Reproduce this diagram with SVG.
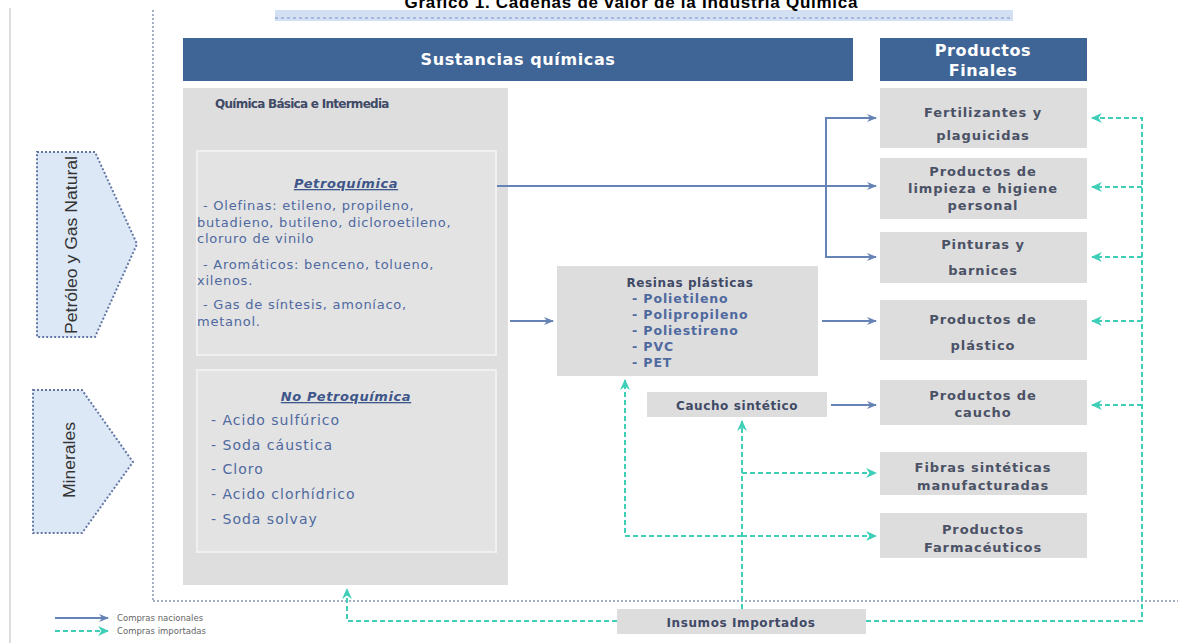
<svg xmlns="http://www.w3.org/2000/svg" width="1178" height="643" viewBox="0 0 1178 643">
<style>
.hdr{fill:#3f6596}
.hdrt{font-family:"DejaVu Sans",sans-serif;font-weight:bold;font-size:16px;fill:#ffffff;text-anchor:middle;letter-spacing:0.6px}
.gbox{fill:#dedede}
.ibox{fill:#e3e3e3;stroke:#f0f0f0;stroke-width:2}
.pbox{fill:#dddddd}
.pt{font-family:"DejaVu Sans",sans-serif;font-weight:bold;font-size:13px;fill:#4b5266;text-anchor:middle;letter-spacing:0.9px}
.bt{font-family:"DejaVu Sans",sans-serif;font-size:13px;fill:#4f69a0;letter-spacing:0.75px}
.bt2{font-family:"DejaVu Sans",sans-serif;font-size:14px;fill:#4f69a0;letter-spacing:1px}
.bth{font-family:"DejaVu Sans",sans-serif;font-weight:bold;font-style:italic;font-size:13px;fill:#3e5689;text-anchor:middle;text-decoration:underline;letter-spacing:0.6px}
.rt{font-family:"DejaVu Sans",sans-serif;font-weight:bold;font-size:12.5px;fill:#4f69a0;letter-spacing:0.9px}
.tt{font-family:"DejaVu Sans",sans-serif;font-weight:bold;font-size:12px;fill:#404a66;letter-spacing:0.6px}
.sol{fill:none;stroke:#6683b5;stroke-width:2}
.dsh{fill:none;stroke:#3fcfb8;stroke-width:2;stroke-dasharray:5,3}
.dot{fill:none;stroke:#a3b0c8;stroke-width:2;stroke-dasharray:2,2}
.arr{fill:#dde8f6;stroke:#6277a6;stroke-width:2;stroke-dasharray:2,2}
.leg{font-family:"DejaVu Sans",sans-serif;font-size:8.5px;fill:#666666}
</style>
<defs>
<marker id="ab" viewBox="0 0 10 10" refX="9" refY="5" markerWidth="10" markerHeight="10" markerUnits="userSpaceOnUse" orient="auto"><path d="M0,1 L10,5 L0,9 L3,5 Z" fill="#6683b5"/></marker>
<marker id="at" viewBox="0 0 10 10" refX="9" refY="5" markerWidth="11" markerHeight="11" markerUnits="userSpaceOnUse" orient="auto"><path d="M0,0.5 L10,5 L0,9.5 L3,5 Z" fill="#3fcfb8"/></marker>
</defs>
<rect width="1178" height="643" fill="#ffffff"/>

<g id="frame">
<line x1="10" y1="8" x2="10" y2="643" stroke="#dddddd" stroke-width="2"/>
<line class="dot" x1="153" y1="10" x2="153" y2="601"/>
<line class="dot" x1="153" y1="601" x2="1178" y2="601"/>
<rect x="275" y="10" width="738" height="11" fill="#d3dff3"/>
<line x1="275" y1="18" x2="1013" y2="18" stroke="#a6b8dc" stroke-width="2" stroke-dasharray="3,3"/>
<text x="631" y="8" font-family="Liberation Sans, sans-serif" font-weight="bold" font-size="17" text-anchor="middle" fill="#000000" textLength="453">Gráfico 1. Cadenas de valor de la Industria Química</text>
</g>

<g id="sustancias-header">
<rect class="hdr" x="183" y="38" width="670" height="43"/>
<text class="hdrt" x="518" y="65">Sustancias químicas</text>
</g>
<g id="productos-header">
<rect class="hdr" x="880" y="38" width="207" height="43"/>
<text class="hdrt" x="983" y="56">Productos</text>
<text class="hdrt" x="983" y="76">Finales</text>
</g>

<g id="petroleo">
<path class="arr" d="M37,152 H95 L137,244 L95,337 H37 Z"/>
<text transform="translate(77,245) rotate(-90)" font-family="Liberation Sans, sans-serif" font-size="16" fill="#333333" text-anchor="middle" textLength="178" lengthAdjust="spacingAndGlyphs">Petróleo y Gas Natural</text>
</g>
<g id="minerales">
<path class="arr" d="M33,390 H82 L133,462 L82,533 H33 Z"/>
<text transform="translate(75,460) rotate(-90)" font-family="Liberation Sans, sans-serif" font-size="16" fill="#333333" text-anchor="middle" textLength="76" lengthAdjust="spacingAndGlyphs">Minerales</text>
</g>

<g id="quimica-basica">
<rect class="gbox" x="183" y="88" width="325" height="497"/>
<text class="tt" x="215" y="108" textLength="175">Química Básica e Intermedia</text>
</g>
<g id="petroquimica">
<rect class="ibox" x="197" y="151" width="299" height="204"/>
<text class="bth" x="346" y="188">Petroquímica</text>
<text class="bt" x="203" y="210"> - Olefinas: etileno, propileno,</text>
<text class="bt" x="197" y="227">butadieno, butileno, dicloroetileno,</text>
<text class="bt" x="197" y="243">cloruro de vinilo</text>
<text class="bt" x="203" y="269"> -  Aromáticos: benceno, tolueno,</text>
<text class="bt" x="197" y="285">xilenos.</text>
<text class="bt" x="203" y="309"> -  Gas de síntesis, amoníaco,</text>
<text class="bt" x="197" y="326">metanol.</text>
</g>
<g id="no-petroquimica">
<rect class="ibox" x="197" y="370" width="299" height="182"/>
<text class="bth" x="346" y="401">No Petroquímica</text>
<text class="bt2" x="211" y="425">- Acido sulfúrico</text>
<text class="bt2" x="211" y="450">- Soda cáustica</text>
<text class="bt2" x="211" y="474">- Cloro</text>
<text class="bt2" x="211" y="499">- Acido clorhídrico</text>
<text class="bt2" x="211" y="524">- Soda solvay</text>
</g>

<g id="resinas">
<rect class="pbox" x="557" y="266" width="261" height="110"/>
<text class="tt" x="690" y="287" text-anchor="middle" font-size="12.5" letter-spacing="0.9">Resinas plásticas</text>
<text class="rt" x="632" y="303">- Polietileno</text>
<text class="rt" x="632" y="319">- Polipropileno</text>
<text class="rt" x="632" y="335">- Poliestireno</text>
<text class="rt" x="632" y="351">- PVC</text>
<text class="rt" x="632" y="367">- PET</text>
</g>
<g id="caucho-sintetico">
<rect class="pbox" x="647" y="392" width="180" height="25"/>
<text class="tt" x="737" y="410" text-anchor="middle" font-size="13.5" letter-spacing="1.1">Caucho sintético</text>
</g>

<g id="fertilizantes">
<rect class="pbox" x="880" y="88" width="207" height="60"/>
<text class="pt" x="983" y="117">Fertilizantes y</text>
<text class="pt" x="983" y="140">plaguicidas</text>
</g>
<g id="limpieza">
<rect class="pbox" x="880" y="158" width="207" height="61"/>
<text class="pt" x="983" y="176">Productos de</text>
<text class="pt" x="983" y="193">limpieza e higiene</text>
<text class="pt" x="983" y="210">personal</text>
</g>
<g id="pinturas">
<rect class="pbox" x="880" y="232" width="207" height="51"/>
<text class="pt" x="983" y="249">Pinturas y</text>
<text class="pt" x="983" y="275">barnices</text>
</g>
<g id="plastico">
<rect class="pbox" x="880" y="300" width="207" height="60"/>
<text class="pt" x="983" y="324">Productos de</text>
<text class="pt" x="983" y="350">plástico</text>
</g>
<g id="caucho">
<rect class="pbox" x="880" y="380" width="207" height="45"/>
<text class="pt" x="983" y="400">Productos de</text>
<text class="pt" x="983" y="417">caucho</text>
</g>
<g id="fibras">
<rect class="pbox" x="880" y="452" width="207" height="43"/>
<text class="pt" x="983" y="472">Fibras sintéticas</text>
<text class="pt" x="983" y="490">manufacturadas</text>
</g>
<g id="farmaceuticos">
<rect class="pbox" x="880" y="513" width="207" height="45"/>
<text class="pt" x="983" y="534">Productos</text>
<text class="pt" x="983" y="552">Farmacéuticos</text>
</g>

<g id="insumos">
<rect class="pbox" x="617" y="609" width="249" height="25"/>
<text class="tt" x="741" y="627" text-anchor="middle" font-size="13.5" letter-spacing="1">Insumos Importados</text>
</g>

<g id="connectors">
<path class="sol" d="M497,186 H876" marker-end="url(#ab)"/>
<path class="sol" d="M826,258 V118 H876" marker-end="url(#ab)"/>
<path class="sol" d="M826,257 H876" marker-end="url(#ab)"/>
<path class="sol" d="M510,321 H553" marker-end="url(#ab)"/>
<path class="sol" d="M822,321 H876" marker-end="url(#ab)"/>
<path class="sol" d="M831,405 H876" marker-end="url(#ab)"/>

<path class="dsh" d="M617,621 H347 V589" marker-end="url(#at)"/>
<path class="dsh" d="M866,621 H1142 V118 H1092" marker-end="url(#at)"/>
<path class="dsh" d="M1142,187 H1092" marker-end="url(#at)"/>
<path class="dsh" d="M1142,257 H1092" marker-end="url(#at)"/>
<path class="dsh" d="M1142,321 H1092" marker-end="url(#at)"/>
<path class="dsh" d="M1142,405 H1092" marker-end="url(#at)"/>
<path class="dsh" d="M742,609 V421" marker-end="url(#at)"/>
<path class="dsh" d="M742,473 H876" marker-end="url(#at)"/>
<path class="dsh" d="M742,536 H625 V380" marker-end="url(#at)"/>
<path class="dsh" d="M742,536 H876" marker-end="url(#at)"/>
</g>

<g id="legend">
<path class="sol" d="M55,618 H108" marker-end="url(#ab)"/>
<path class="dsh" d="M55,631 H108" marker-end="url(#at)"/>
<text class="leg" x="117" y="621">Compras nacionales</text>
<text class="leg" x="117" y="634">Compras importadas</text>
</g>
</svg>
